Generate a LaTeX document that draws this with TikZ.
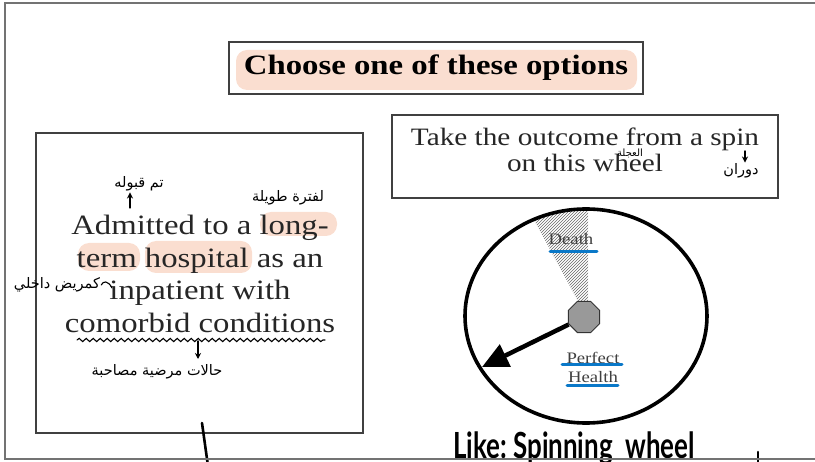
\documentclass[tikz,border=0pt]{standalone}
\usepackage{fontspec}
\setmainfont{Liberation Serif}
\newfontfamily\scanfont[FakeStretch=1.17]{Liberation Serif}
\newfontfamily\arabicfont[Script=Arabic]{DejaVu Sans}
\newfontfamily\handfont[FakeStretch=0.72]{Lato}
\TeXXeTstate=1
\usetikzlibrary{arrows.meta,shapes.geometric,patterns,decorations.pathmorphing}
\definecolor{peach}{RGB}{250,222,208}
\definecolor{penblue}{RGB}{10,120,200}

\begin{document}
\begin{tikzpicture}[x=1pt,y=-1pt]
	\tikzset{boxframe/.style={draw=black!75, line width=1.6pt, inner sep=0pt}}
	\tikzset{hl/.style={fill=peach, rounded corners=11pt}}
	\tikzset{note/.style={font=\arabicfont\fontsize{14.5}{16}\selectfont, inner sep=1pt}}
	\tikzset{pen/.style={draw=black, line width=1.1pt, line cap=round}}
	\tikzset{penarrow/.style={pen, -{Stealth[length=6pt,width=6pt]}}}
	\tikzset{blueline/.style={draw=penblue, line width=3pt, line cap=round}}
	\tikzset{wheellabel/.style={font=\scanfont\fontsize{16}{18}\selectfont, text=black!75, inner sep=0pt}}

	\useasboundingbox (0,0) rectangle (815,462);

	% title
	\fill[hl] (236,50) rectangle (637,90);
	\node[boxframe, minimum width=414pt, minimum height=52pt,
	      font=\scanfont\bfseries\fontsize{28}{30}\selectfont] (title) at (436,68) {Choose one of these options};

	% option A
	\fill[hl] (260,212) rectangle (337,236);
	\fill[hl] (78,243) rectangle (140,271);
	\fill[hl] (145,241) rectangle (252,273);
	\node[boxframe, minimum width=327pt, minimum height=300pt] (opta) at (199.5,283) {};
	\node[font=\scanfont\fontsize{28}{32.5}\selectfont, text=black!85, align=center, inner sep=0pt]
	      (optatext) at (200,274) {Admitted to a long-\\term hospital as an\\inpatient with\\comorbid conditions};

	% option B
	\node[boxframe, minimum width=386pt, minimum height=83pt] (optb) at (585,156.5) {};
	\node[font=\scanfont\fontsize{25}{26}\selectfont, text=black!85, align=center, inner sep=0pt]
	      (optbtext) at (585,149.5) {Take the outcome from a spin\\on this wheel};

	% wheel
	\fill[pattern=north east lines, pattern color=black!60]
	      (579,303) -- (533,218) -- (560,211) -- (588,209) -- (588,303) -- cycle;
	\draw[line width=3.6pt] (586,316) ellipse [x radius=121pt, y radius=107pt];
	\node[regular polygon, regular polygon sides=8, minimum size=34pt, inner sep=0pt,
	      draw=black!80, line width=1pt, fill=black!40] (hub) at (584,317) {};
	\coordinate (tip) at (482,367);
	\draw[line width=4.5pt, -{Triangle[length=26pt,width=24pt]}] (hub) -- (tip);

	\node[wheellabel] (death) at (571,239.5) {Death};
	\node[wheellabel] (perfect) at (593,357.5) {Perfect};
	\node[wheellabel] (health) at (593,377.5) {Health};
	\draw[blueline] (550,252) -- (597,252);
	\draw[blueline] (562,365) -- (622,365);
	\draw[blueline] (567,386) -- (618,386);

	% notes
	\node[note] (admitnote) at (139,184) {\beginR تم قبوله\endR};
	\coordinate (admitfoot) at (130,208);
	\draw[penarrow] (admitfoot) -- (admitfoot |- admitnote.south);
	\node[note] (longnote) at (288,198) {\beginR لفترة طويلة\endR};
	\node[note] (inpatnote) at (57,285) {\beginR كمريض داخلي\endR};
	\coordinate (inpatfoot) at (112,288);
	\draw[pen] (inpatfoot) .. controls (108,280) and (103,281) .. (inpatnote.east);
	\coordinate (wavestart) at (77,340);
	\coordinate (waveend) at (325,340);
	\draw[pen, decorate, decoration={snake, amplitude=1.6pt, segment length=7pt}] (wavestart) -- (waveend);
	\node[note] (comornote) at (157,372) {\beginR حالات مرضية مصاحبة\endR};
	\coordinate (comorfoot) at (198,341);
	\draw[penarrow, line width=1.4pt] (comorfoot) -- (198,359);
	\node[note, font=\arabicfont\fontsize{10}{11}\selectfont] (wheelnote) at (630,153) {\beginR العجلة\endR};
	\node[note] (spinnote) at (741,171) {\beginR دوران\endR};
	\coordinate (spinfoot) at (745,151);
	\draw[penarrow, line width=1.4pt] (spinfoot) -- (spinfoot |- spinnote.north);

	% bottom scribbles
	\coordinate (markA) at (202,423);
	\coordinate (markB) at (758,452);
	\draw[pen, line width=2.6pt] (markA) -- (208,466);
	\draw[pen, line width=2.6pt] (markB) -- (758,466);
	\node[font=\handfont\bfseries\fontsize{36}{38}\selectfont, anchor=base west, inner sep=0pt]
	      (liketext) at (453,459) {Like:~Spinning~~wheel};

	% outer frame
	\draw[draw=black!55, line width=1.6pt] (815,3) -- (5,3) -- (5,459) -- (815,459);
\end{tikzpicture}
\end{document}
